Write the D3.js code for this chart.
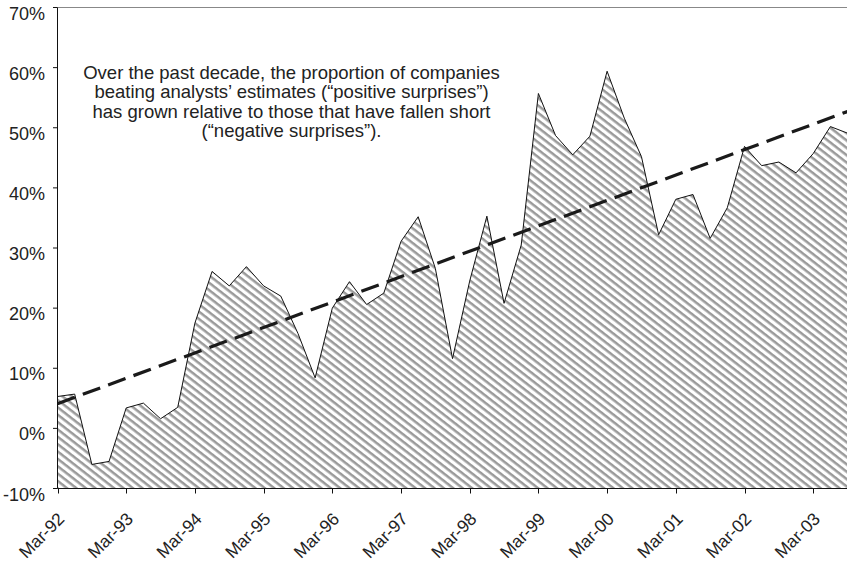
<!DOCTYPE html>
<html>
<head>
<meta charset="utf-8">
<script src="https://cdn.jsdelivr.net/npm/d3@7"></script>
<style>
  body { margin: 0; background: #fff; }
  svg { display: block; font-family: 'Liberation Sans', Arial, Helvetica, sans-serif; }
</style>
</head>
<body>
<div id="chart"></div>
<script>
// quarterly share of positive minus negative surprises, Mar-92 .. Sep-03
let quarters = ['Mar-92', 'Jun-92', 'Sep-92', 'Dec-92',
  'Mar-93', 'Jun-93', 'Sep-93', 'Dec-93',
  'Mar-94', 'Jun-94', 'Sep-94', 'Dec-94',
  'Mar-95', 'Jun-95', 'Sep-95', 'Dec-95',
  'Mar-96', 'Jun-96', 'Sep-96', 'Dec-96',
  'Mar-97', 'Jun-97', 'Sep-97', 'Dec-97',
  'Mar-98', 'Jun-98', 'Sep-98', 'Dec-98',
  'Mar-99', 'Jun-99', 'Sep-99', 'Dec-99',
  'Mar-00', 'Jun-00', 'Sep-00', 'Dec-00',
  'Mar-01', 'Jun-01', 'Sep-01', 'Dec-01',
  'Mar-02', 'Jun-02', 'Sep-02', 'Dec-02',
  'Mar-03', 'Jun-03', 'Sep-03']

let surprise = [5.3, 5.7, -6.0, -5.5,
  3.4, 4.2, 1.6, 3.5,
  17.5, 26.1, 23.7, 26.9,
  23.7, 22.0, 15.8, 8.4,
  20.0, 24.4, 20.6, 22.5,
  31.1, 35.2, 26.6, 11.6,
  24.5, 35.3, 20.8, 30.5,
  55.7, 48.7, 45.5, 48.6,
  59.4, 51.6, 45.2, 32.2,
  38.1, 38.9, 31.6, 36.7,
  46.9, 43.7, 44.3, 42.5,
  45.7, 50.2, 49.1]

// trend line end points (first and last quarter)
let trend = [4.1, 52.7]

let yTicks = [-10, 0, 10, 20, 30, 40, 50, 60, 70]
let xTickLabels = ['Mar-92', 'Mar-93', 'Mar-94', 'Mar-95', 'Mar-96', 'Mar-97',
  'Mar-98', 'Mar-99', 'Mar-00', 'Mar-01', 'Mar-02', 'Mar-03']

let note = ['Over the past decade, the proportion of companies',
  'beating analysts\u2019 estimates (\u201cpositive surprises\u201d)',
  'has grown relative to those that have fallen short',
  '(\u201cnegative surprises\u201d).']

let w = 847
let h = 562
let plotLeft = 57.5
let plotTop = 7.5
let plotBottom = 488.5
let step = 17.175

let x = d3.scaleLinear()
  .domain([0, quarters.length - 1])
  .range([plotLeft, plotLeft + step * (quarters.length - 1)])

let y = d3.scaleLinear()
  .domain([-10, 70])
  .range([plotBottom, plotTop])

let svg = d3.select('#chart').append('svg')
  .attr('width', w)
  .attr('height', h)

let defs = svg.append('defs')
let hatch = defs.append('pattern')
  .attr('id', 'hatch')
  .attr('patternUnits', 'userSpaceOnUse')
  .attr('width', 20)
  .attr('height', 5.8)
  .attr('patternTransform', 'rotate(38)')
hatch.append('rect')
  .attr('width', 20)
  .attr('height', 5.8)
  .attr('fill', '#fff')
hatch.append('rect')
  .attr('y', 0)
  .attr('width', 20)
  .attr('height', 2.5)
  .attr('fill', '#9a9a9a')

// top frame line
svg.append('line')
  .attr('x1', plotLeft)
  .attr('x2', w)
  .attr('y1', plotTop)
  .attr('y2', plotTop)
  .attr('stroke', '#888')
  .attr('stroke-width', 1)

let area = d3.area()
  .x(function (d, i) { return x(i) })
  .y0(y(-10))
  .y1(function (d) { return y(d) })

svg.append('path')
  .datum(surprise)
  .attr('d', area)
  .attr('fill', 'url(#hatch)')

let line = d3.line()
  .x(function (d, i) { return x(i) })
  .y(function (d) { return y(d) })

svg.append('path')
  .datum(surprise)
  .attr('d', line)
  .attr('fill', 'none')
  .attr('stroke', '#111')
  .attr('stroke-width', 1)
  .attr('stroke-linejoin', 'miter')

svg.append('line')
  .attr('x1', x(0))
  .attr('y1', y(trend[0]))
  .attr('x2', x(quarters.length - 1))
  .attr('y2', y(trend[1]))
  .attr('stroke', '#1a1a1a')
  .attr('stroke-width', 3.2)
  .attr('stroke-dasharray', '18.5,8.5')

// y axis
let yAxis = svg.append('g').attr('class', 'y-axis')
yAxis.append('line')
  .attr('x1', plotLeft)
  .attr('x2', plotLeft)
  .attr('y1', plotTop)
  .attr('y2', plotBottom)
  .attr('stroke', '#111')
yAxis.selectAll('.tick')
  .data(yTicks)
  .enter().append('line')
  .attr('x1', plotLeft - 4.5)
  .attr('x2', plotLeft)
  .attr('y1', function (d) { return y(d) })
  .attr('y2', function (d) { return y(d) })
  .attr('stroke', '#111')
yAxis.selectAll('text')
  .data(yTicks)
  .enter().append('text')
  .attr('x', 45)
  .attr('y', function (d) { return y(d) + 12 })
  .attr('text-anchor', 'end')
  .attr('font-size', 18)
  .attr('fill', '#222')
  .text(function (d) { return d + '%' })

// x axis
let xAxis = svg.append('g').attr('class', 'x-axis')
xAxis.append('line')
  .attr('x1', plotLeft)
  .attr('x2', w)
  .attr('y1', plotBottom)
  .attr('y2', plotBottom)
  .attr('stroke', '#111')
xAxis.selectAll('.tick')
  .data(xTickLabels)
  .enter().append('line')
  .attr('x1', function (d) { return Math.round(x(quarters.indexOf(d))) + 0.5 })
  .attr('x2', function (d) { return Math.round(x(quarters.indexOf(d))) + 0.5 })
  .attr('y1', plotBottom)
  .attr('y2', plotBottom + 5)
  .attr('stroke', '#111')
xAxis.selectAll('text')
  .data(xTickLabels)
  .enter().append('text')
  .attr('transform', function (d) {
    return 'translate(' + (x(quarters.indexOf(d)) + 8) + ',' + (plotBottom + 31.5) + ') rotate(-45)'
  })
  .attr('text-anchor', 'end')
  .attr('font-size', 17.5)
  .attr('fill', '#222')
  .text(function (d) { return d })

// annotation
svg.append('g')
  .selectAll('text')
  .data(note)
  .enter().append('text')
  .attr('x', 291.5)
  .attr('y', function (d, i) { return 79 + i * 19.3 })
  .attr('text-anchor', 'middle')
  .attr('font-size', 18.5)
  .attr('fill', '#222')
  .text(function (d) { return d })
</script>
</body>
</html>
